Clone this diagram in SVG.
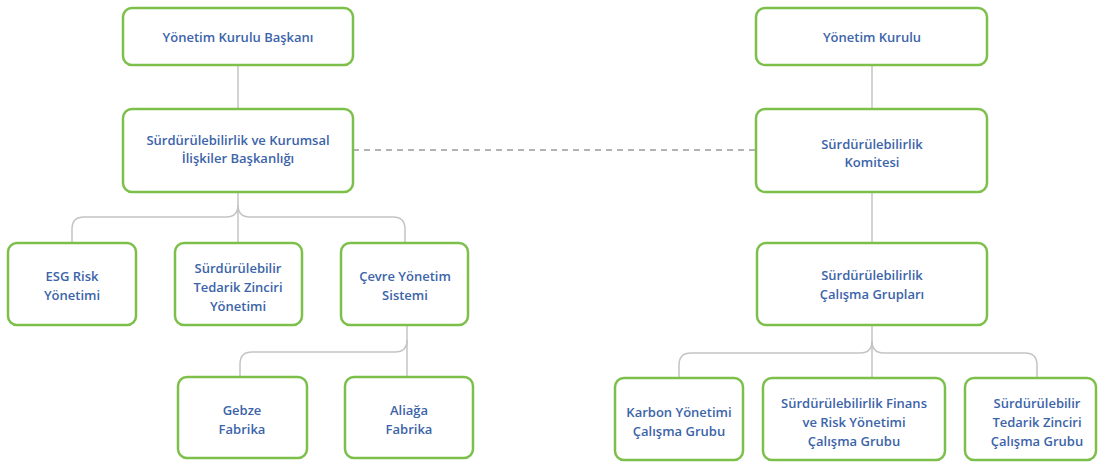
<svg xmlns="http://www.w3.org/2000/svg" width="1100" height="462" viewBox="0 0 1100 462">
<style>
.box{fill:#ffffff;stroke:#7cc04b;stroke-width:2.5}
.t{font-family:"Open Sans","Liberation Sans",sans-serif;font-weight:600;font-size:13px;fill:#3b64a9;text-anchor:middle}
.c{fill:none;stroke:#c4c4c4;stroke-width:1.5}
.d{fill:none;stroke:#9a9a9a;stroke-width:1.3;stroke-dasharray:6 5}
</style>
<rect width="1100" height="462" fill="#ffffff"/>
<g id="connectors">
<path class="c" d="M238,65 V109"/>
<path class="c" d="M238,192 V243"/>
<path class="c" d="M72,243 V229 Q72,217 84,217 H226 Q238,217 238,205"/>
<path class="c" d="M405,243 V229 Q405,217 393,217 H250 Q238,217 238,205"/>
<path class="c" d="M407,325 V377"/>
<path class="c" d="M240,377 V364 Q240,352 252,352 H395 Q407,352 407,340"/>
<path class="d" d="M353,150 H756"/>
<path class="c" d="M872,65 V109"/>
<path class="c" d="M872,192 V243"/>
<path class="c" d="M872,325 V378"/>
<path class="c" d="M679,378 V365 Q679,353 691,353 H860 Q872,353 872,341"/>
<path class="c" d="M1037,378 V365 Q1037,353 1025,353 H884 Q872,353 872,341"/>
</g>
<g id="n1"><rect class="box" x="123" y="8" width="230" height="57" rx="9"/><text class="t" x="238" y="42">Yönetim Kurulu Başkanı</text></g>
<g id="n2"><rect class="box" x="123" y="109" width="230" height="83" rx="9"/><text class="t" x="238" y="145">Sürdürülebilirlik ve Kurumsal</text><text class="t" x="238" y="163">İlişkiler Başkanlığı</text></g>
<g id="n3"><rect class="box" x="8" y="243" width="128" height="82" rx="9"/><text class="t" x="72" y="281">ESG Risk</text><text class="t" x="72" y="300">Yönetimi</text></g>
<g id="n4"><rect class="box" x="175" y="243" width="127" height="82" rx="9"/><text class="t" x="238" y="273">Sürdürülebilir</text><text class="t" x="238" y="292">Tedarik Zinciri</text><text class="t" x="238" y="311">Yönetimi</text></g>
<g id="n5"><rect class="box" x="341" y="243" width="127" height="82" rx="9"/><text class="t" x="405" y="281">Çevre Yönetim</text><text class="t" x="405" y="300">Sistemi</text></g>
<g id="n6"><rect class="box" x="178" y="377" width="129" height="81" rx="9"/><text class="t" x="242" y="415">Gebze</text><text class="t" x="242" y="434">Fabrika</text></g>
<g id="n7"><rect class="box" x="345" y="377" width="128" height="81" rx="9"/><text class="t" x="409" y="415">Aliağa</text><text class="t" x="409" y="434">Fabrika</text></g>
<g id="n8"><rect class="box" x="756" y="8" width="231" height="57" rx="9"/><text class="t" x="872" y="42">Yönetim Kurulu</text></g>
<g id="n9"><rect class="box" x="756" y="109" width="231" height="83" rx="9"/><text class="t" x="872" y="149">Sürdürülebilirlik</text><text class="t" x="872" y="167">Komitesi</text></g>
<g id="n10"><rect class="box" x="757" y="243" width="230" height="82" rx="9"/><text class="t" x="872" y="280">Sürdürülebilirlik</text><text class="t" x="872" y="299">Çalışma Grupları</text></g>
<g id="n11"><rect class="box" x="615" y="378" width="128" height="82" rx="9"/><text class="t" x="679" y="417">Karbon Yönetimi</text><text class="t" x="679" y="436">Çalışma Grubu</text></g>
<g id="n12"><rect class="box" x="763" y="378" width="182" height="82" rx="9"/><text class="t" x="854" y="408">Sürdürülebilirlik Finans</text><text class="t" x="854" y="427">ve Risk Yönetimi</text><text class="t" x="854" y="446">Çalışma Grubu</text></g>
<g id="n13"><rect class="box" x="965" y="378" width="131" height="82" rx="9"/><text class="t" x="1037" y="408">Sürdürülebilir</text><text class="t" x="1037" y="427">Tedarik Zinciri</text><text class="t" x="1037" y="446">Çalışma Grubu</text></g>
</svg>
